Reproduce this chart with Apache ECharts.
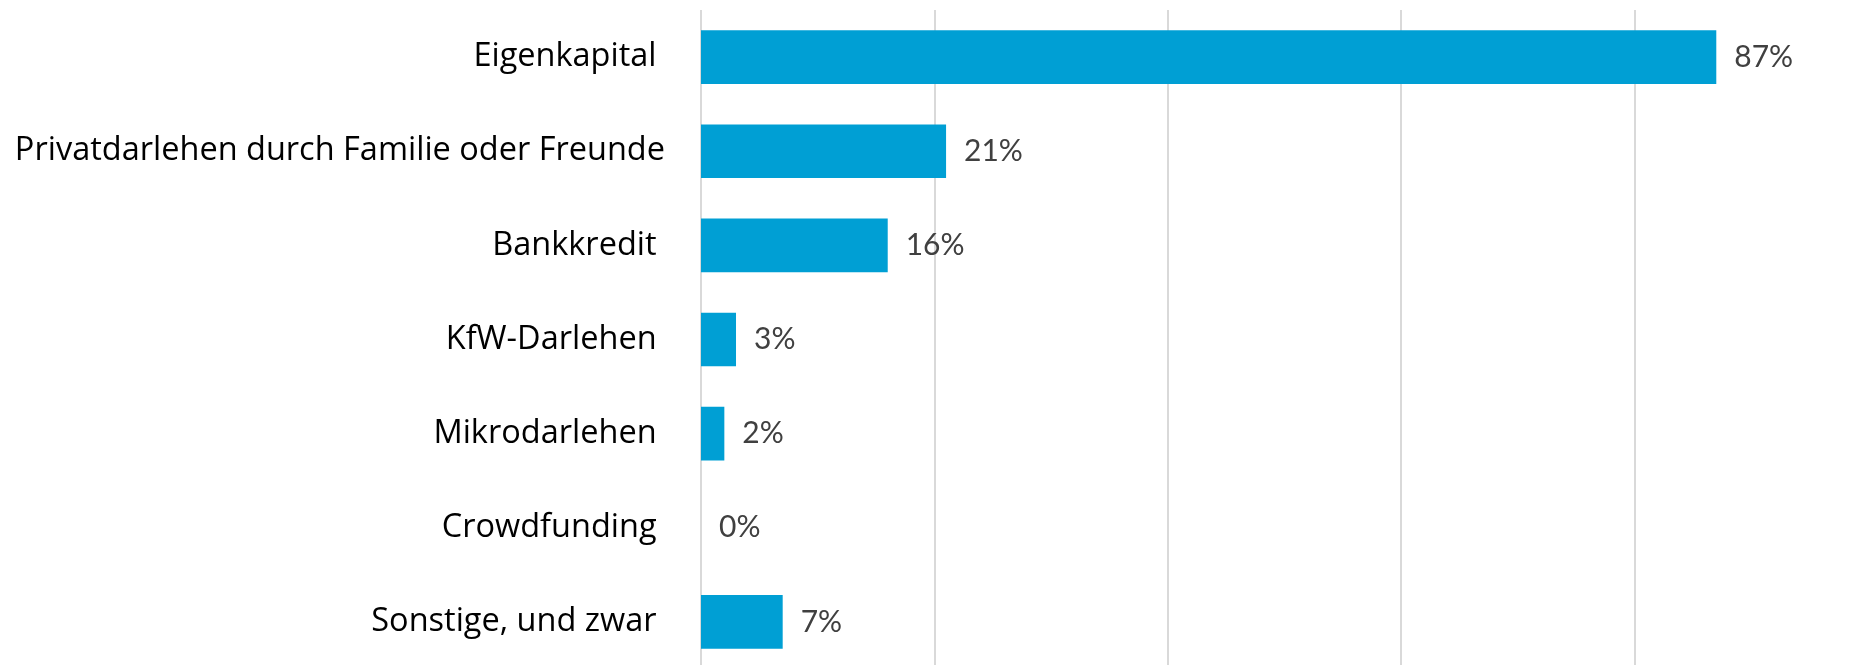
<!DOCTYPE html>
<html>
<head>
<meta charset="utf-8">
<script src="https://cdn.jsdelivr.net/npm/echarts@6/dist/echarts.min.js"></script>
<style>
  html, body { margin: 0; padding: 0; background: #fff; overflow: hidden; }
  /* the source chart is cropped on the right and bottom, so the canvas is a bit larger than the window */
  #chart { width: 1868px; height: 672px; }
</style>
</head>
<body>
<div id="chart"></div>
<script>
// categories as in the source (most carry a trailing space)
const categories = [
  'Eigenkapital ',
  'Privatdarlehen durch Familie oder Freunde',
  'Bankkredit ',
  'KfW-Darlehen ',
  'Mikrodarlehen ',
  'Crowdfunding ',
  'Sonstige, und zwar '
];
const shares = [87, 21, 16, 3, 2, 0, 7];
const axisMin = 0;
const axisMax = 100;
const axisStep = 20;

const myChart = echarts.init(document.getElementById('chart'));

const option = {
  animation: false,
  grid: {
    left: 701,
    top: 10,
    right: 0,
    bottom: 3
  },
  xAxis: {
    type: 'value',
    min: axisMin,
    max: axisMax,
    interval: axisStep,
    axisLabel: { show: false },
    axisLine: { show: false },
    axisTick: { show: false },
    splitLine: { lineStyle: { color: '#d9d9d9', width: 2 } }
  },
  yAxis: {
    type: 'category',
    inverse: true,
    data: categories,
    axisLine: { show: false },
    axisTick: { show: false },
    axisLabel: {
      margin: 36,
      color: '#000',
      fontSize: 32.5,
      fontFamily: '"Open Sans", "Noto Sans", sans-serif'
    }
  },
  series: [
    {
      type: 'bar',
      data: shares,
      barCategoryGap: '43%',
      itemStyle: { color: '#009fd4' },
      label: {
        show: true,
        position: 'right',
        distance: 18,
        formatter: '{c}%',
        color: '#404040',
        fontSize: 30,
        fontFamily: 'Lato, "Open Sans", sans-serif'
      }
    }
  ]
};

myChart.setOption(option);
</script>
</body>
</html>
